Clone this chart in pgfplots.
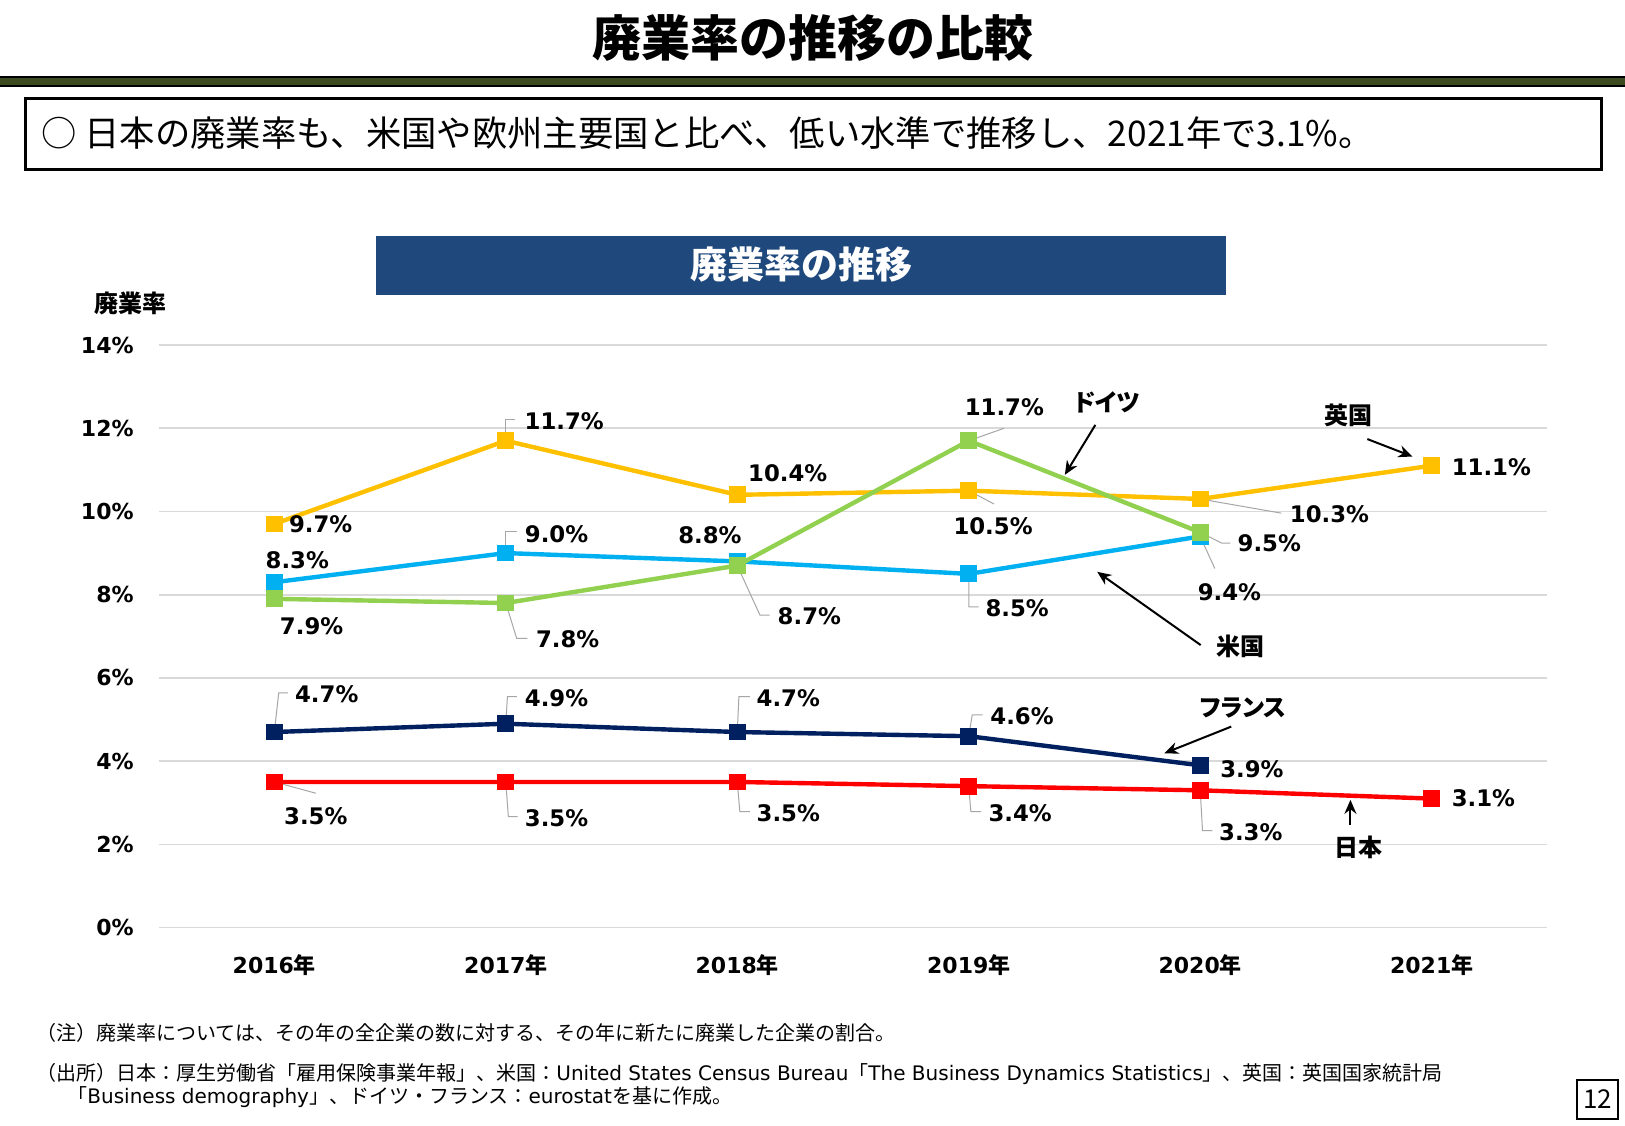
\documentclass[border=0pt]{standalone}
\usepackage{pgfplots}
\pgfplotsset{compat=1.18}
\usetikzlibrary{arrows.meta}
\usepackage{fontspec}
\setmainfont{DejaVu Sans}
\newfontfamily\jp{Noto Sans CJK JP}
\newfontfamily\jpp{Noto Sans CJK JP}[RawFeature=+palt]
\newfontfamily\lat{DejaVu Sans}

\definecolor{ukgold}{HTML}{FFC000}
\definecolor{degreen}{HTML}{92D050}
\definecolor{usblue}{HTML}{00B0F0}
\definecolor{frnavy}{HTML}{002060}
\definecolor{jpred}{HTML}{FF0000}
\definecolor{barolive}{HTML}{3B4B1F}
\definecolor{boxblue}{HTML}{1F497D}
\definecolor{gridgray}{HTML}{D9D9D9}
\definecolor{leadgray}{HTML}{A6A6A6}

\tikzset{
  dl/.style={font=\bfseries\fontsize{11.4}{13}\selectfont, inner sep=0pt},
  leader/.style={leadgray, line width=0.5pt},
  ann/.style={font=\jpp\bfseries\fontsize{12}{14}\selectfont, inner sep=0pt},
  pointer/.style={black, line width=1pt, -{Stealth[length=7pt,width=6pt]}},
}

\begin{document}
\begin{tikzpicture}[x=0.5pt,y=-0.5pt]
  \path[use as bounding box, fill=white] (0,0) rectangle (1625,1125);

  % page heading
  \node[font=\jp\bfseries\fontsize{24.5}{28}\selectfont] at (813,38) {廃業率の推移の比較};
  \fill[barolive] (0,77) rectangle (1625,86);
  \draw[black, line width=0.6pt] (0,77) -- (1625,77) (0,86) -- (1625,86);

  % summary box
  \draw[black, line width=1.6pt] (25.5,98.5) rectangle (1601.5,169.5);
  \node[anchor=west, inner sep=0pt, font=\jp\fontsize{17.66}{22}\selectfont] at (41,133)
    {○ 日本の廃業率も、米国や欧州主要国と比べ、低い水準で推移し、2021年で3.1\%。};

  % chart heading
  \fill[boxblue] (376,236) rectangle (1226,295);
  \node[text=white, font=\jp\bfseries\fontsize{18.5}{22}\selectfont] at (801,265) {廃業率の推移};
  \node[font=\jp\bfseries\fontsize{12}{14}\selectfont] at (130,303) {廃業率};

  \begin{axis}[
    at={(79.3pt,-463.8pt)}, anchor=south west,
    scale only axis, width=694.4pt, height=291.3pt,
    xmin=-0.5, xmax=5.5, ymin=0, ymax=14,
    clip=false,
    axis line style={draw=none},
    major tick length=0pt,
    ymajorgrids,
    major grid style={gridgray, line width=0.8pt},
    xtick={0,1,2,3,4,5},
    xticklabels={2016{\jp 年},2017{\jp 年},2018{\jp 年},2019{\jp 年},2020{\jp 年},2021{\jp 年}},
    ytick={0,2,4,6,8,10,12,14},
    yticklabels={0\%,2\%,4\%,6\%,8\%,10\%,12\%,14\%},
    /pgf/number format/assume math mode=true,
    xticklabel style={font=\bfseries\fontsize{11}{13}\selectfont, anchor=center, inner sep=0pt, yshift=-18.5pt},
    yticklabel style={font=\bfseries\fontsize{11}{13}\selectfont, anchor=east, inner sep=0pt, xshift=-12.3pt},
    every axis plot/.append style={line width=2.2pt, mark=square*, mark size=3.1pt, mark options={solid}},
  ]
    % Japan
    \addplot[jpred] coordinates {(0,3.5) (1,3.5) (2,3.5) (3,3.4) (4,3.3) (5,3.1)};
    % France
    \addplot[frnavy] coordinates {(0,4.7) (1,4.9) (2,4.7) (3,4.6) (4,3.9)};
    % United States
    \addplot[usblue] coordinates {(0,8.3) (1,9.0) (2,8.8) (3,8.5) (4,9.4)};
    % United Kingdom
    \addplot[ukgold] coordinates {(0,9.7) (1,11.7) (2,10.4) (3,10.5) (4,10.3) (5,11.1)};
    % Germany
    \addplot[degreen] coordinates {(0,7.9) (1,7.8) (2,8.7) (3,11.7) (4,9.5)};

    % value labels: United Kingdom
    \node[dl] at (axis cs:0.20,9.69) {9.7\%};
    \draw[leader] (axis cs:1,11.7) -- (axis cs:1,12.22) -- (axis cs:1.04,12.22);
    \node[dl, anchor=west] at (axis cs:1.08,12.18) {11.7\%};
    \node[dl] at (axis cs:2.218,10.91) {10.4\%};
    \draw[leader] (axis cs:3,10.5) -- (axis cs:3.109,10.18);
    \node[dl] at (axis cs:3.105,9.64) {10.5\%};
    \draw[leader] (axis cs:4,10.3) -- (axis cs:4.35,9.96);
    \node[dl, anchor=west] at (axis cs:4.386,9.94) {10.3\%};
    \node[dl, anchor=west] at (axis cs:5.085,11.06) {11.1\%};

    % value labels: Germany
    \node[dl] at (axis cs:0.161,7.25) {7.9\%};
    \draw[leader] (axis cs:1,7.8) -- (axis cs:1.047,6.95) -- (axis cs:1.093,6.95);
    \node[dl, anchor=west] at (axis cs:1.129,6.92) {7.8\%};
    \draw[leader] (axis cs:2,8.7) -- (axis cs:2.098,7.51) -- (axis cs:2.14,7.51);
    \node[dl, anchor=west] at (axis cs:2.173,7.48) {8.7\%};
    \draw[leader] (axis cs:3,11.7) -- (axis cs:3.153,12.0);
    \node[dl] at (axis cs:3.154,12.51) {11.7\%};
    \draw[leader] (axis cs:4,9.5) -- (axis cs:4.093,9.24) -- (axis cs:4.13,9.24);
    \node[dl, anchor=west] at (axis cs:4.16,9.24) {9.5\%};

    % value labels: United States
    \node[dl] at (axis cs:0.099,8.82) {8.3\%};
    \draw[leader] (axis cs:1,9.0) -- (axis cs:1,9.52) -- (axis cs:1.048,9.52);
    \node[dl, anchor=west] at (axis cs:1.081,9.46) {9.0\%};
    \node[dl] at (axis cs:1.882,9.44) {8.8\%};
    \draw[leader] (axis cs:3,8.5) -- (axis cs:3.001,7.71) -- (axis cs:3.043,7.71);
    \node[dl, anchor=west] at (axis cs:3.071,7.68) {8.5\%};
    \draw[leader] (axis cs:4,9.4) -- (axis cs:4.063,8.63);
    \node[dl] at (axis cs:4.126,8.05) {9.4\%};

    % value labels: France
    \draw[leader] (axis cs:0,4.7) -- (axis cs:0.019,5.64) -- (axis cs:0.059,5.64);
    \node[dl, anchor=west] at (axis cs:0.088,5.6) {4.7\%};
    \draw[leader] (axis cs:1,4.9) -- (axis cs:1.007,5.55) -- (axis cs:1.048,5.55);
    \node[dl, anchor=west] at (axis cs:1.081,5.52) {4.9\%};
    \draw[leader] (axis cs:2,4.7) -- (axis cs:2.007,5.55) -- (axis cs:2.054,5.55);
    \node[dl, anchor=west] at (axis cs:2.082,5.52) {4.7\%};
    \draw[leader] (axis cs:3,4.6) -- (axis cs:3.015,5.11) -- (axis cs:3.06,5.11);
    \node[dl, anchor=west] at (axis cs:3.092,5.08) {4.6\%};
    \node[dl, anchor=west] at (axis cs:4.085,3.80) {3.9\%};

    % value labels: Japan
    \draw[leader] (axis cs:0,3.5) -- (axis cs:0.179,3.23);
    \node[dl] at (axis cs:0.179,2.67) {3.5\%};
    \draw[leader] (axis cs:1,3.5) -- (axis cs:1.011,2.67) -- (axis cs:1.051,2.67);
    \node[dl, anchor=west] at (axis cs:1.081,2.64) {3.5\%};
    \draw[leader] (axis cs:2,3.5) -- (axis cs:2.011,2.79) -- (axis cs:2.054,2.79);
    \node[dl, anchor=west] at (axis cs:2.082,2.76) {3.5\%};
    \draw[leader] (axis cs:3,3.4) -- (axis cs:3.009,2.79) -- (axis cs:3.054,2.79);
    \node[dl, anchor=west] at (axis cs:3.084,2.76) {3.4\%};
    \draw[leader] (axis cs:4,3.3) -- (axis cs:4.01,2.33) -- (axis cs:4.052,2.33);
    \node[dl, anchor=west] at (axis cs:4.08,2.30) {3.3\%};
    \node[dl, anchor=west] at (axis cs:5.085,3.11) {3.1\%};

    % series names with pointers
    \node[ann] at (axis cs:3.598,12.61) {ドイツ};
    \draw[pointer] (axis cs:3.547,12.08) -- (axis cs:3.415,10.88);
    \node[ann] at (axis cs:4.642,12.31) {英国};
    \draw[pointer] (axis cs:4.722,11.74) -- (axis cs:4.917,11.32);
    \node[ann] at (axis cs:4.176,6.75) {米国};
    \draw[pointer] (axis cs:4.002,6.79) -- (axis cs:3.555,8.55);
    \node[ann] at (axis cs:4.185,5.28) {フランス};
    \draw[pointer] (axis cs:4.134,4.83) -- (axis cs:3.845,4.19);
    \node[ann] at (axis cs:4.682,1.92) {日本};
    \draw[pointer] (axis cs:4.649,2.47) -- (axis cs:4.649,3.07);
  \end{axis}

  % notes and sources
  \begin{scope}[every node/.style={anchor=west, inner sep=0pt, font=\jp\fontsize{10}{12}\selectfont}]
    \node at (36,1033) {（注）廃業率については、その年の全企業の数に対する、その年に新たに廃業した企業の割合。};
    \node at (36,1074) {（出所）日本：厚生労働省「雇用保険事業年報」、米国：{\lat United States Census Bureau}「{\lat The Business Dynamics Statistics}」、英国：英国国家統計局};
    \node at (67,1097) {「{\lat Business demography}」、ドイツ・フランス：{\lat eurostat}を基に作成。};
  \end{scope}

  % page number
  \draw[black, line width=1.3pt] (1577,1080) rectangle (1618,1119);
  \node[font=\jp\fontsize{13}{15}\selectfont] at (1597.5,1099.5) {12};
\end{tikzpicture}
\end{document}
